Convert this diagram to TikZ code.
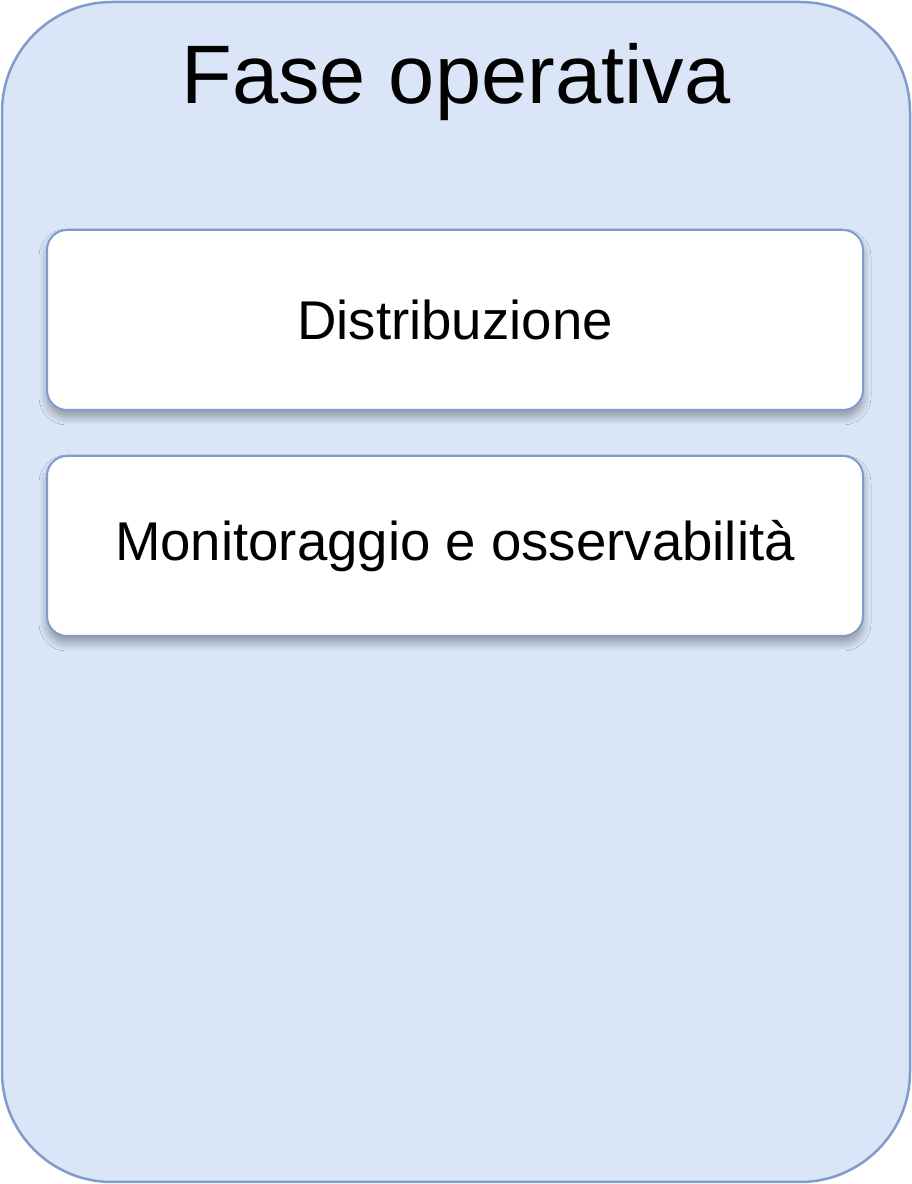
\documentclass[tikz,border=0pt]{standalone}
\usepackage{fontspec}
\setmainfont{Liberation Sans}
\usepackage{tikz}
\usetikzlibrary{shadows.blur}
\usepackage{xcolor}
\definecolor{panelfill}{HTML}{DAE6F7}
\definecolor{paneledge}{HTML}{7F9CCB}

\begin{document}
\begin{tikzpicture}[x=1pt, y=1pt,
  phasebox/.style={draw=paneledge, fill=white, line width=2pt, rounded corners=20pt,
    minimum width=816pt, minimum height=180pt, inner sep=0pt,
    blur shadow={shadow xshift=0pt, shadow yshift=-7pt, shadow blur radius=8pt,
      shadow opacity=35, shadow blur steps=10},
    font=\fontsize{54.6}{60}\selectfont}]
  \useasboundingbox (0,0) rectangle (912,1184);
  % Panel
  \draw[draw=paneledge, fill=panelfill, line width=2.5pt, rounded corners=110pt] (2,2) rectangle (910,1182);

  % Nodes
  \node[font=\fontsize{83}{90}\selectfont] (title) at (456,1102) {Fase operativa};
  \node[phasebox] (dist) at (455,864) {Distribuzione};
  \node[phasebox] (mon) at (455,638) {Monitoraggio e osservabilità};
\end{tikzpicture}
\end{document}
